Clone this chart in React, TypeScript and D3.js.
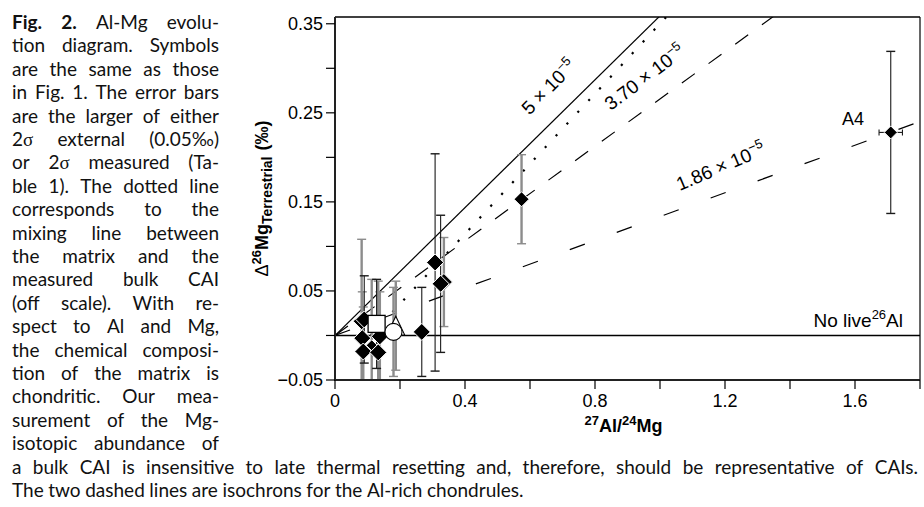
import React, { useEffect, useRef } from 'react';
import * as d3 from 'd3';

const W = 924;
const H = 507;

// Axis ticks
const xTickValues = [0, 0.2, 0.4, 0.6, 0.8, 1.0, 1.2, 1.4, 1.6, 1.8];
const xTickLabels = ['0', '', '0.4', '', '0.8', '', '1.2', '', '1.6', ''];
const yTickValues = [-0.05, 0, 0.05, 0.1, 0.15, 0.2, 0.25, 0.3, 0.35];
const yTickLabels = ['\u22120.05', '', '0.05', '', '0.15', '', '0.25', '', '0.35'];

// Isochrons (26Al/27Al initial ratios)
const isoRatios = [5e-5, 3.7e-5, 1.86e-5];
const isoLabels = ['5 \u00d7 10', '3.70 \u00d7 10', '1.86 \u00d7 10'];
const isoLabelX = [0.672, 0.965, 1.195];
const isoLabelY = [0.274, 0.284, 0.183];
const MG_STD = 0.13932;

// Mixing line matrix -> bulk CAI
const mixX = [0.11, 1.02];
const mixY = [0.0, 0.358];

// Data points (draw order)
const ptShape = ['diamond', 'diamond', 'diamond', 'diamond', 'diamond', 'diamond', 'diamond', 'diamond', 'diamond', 'diamond', 'diamond', 'diamond', 'square', 'triangle', 'circle', 'diamond'];
const ptX = [0.574, 0.335, 0.325, 0.308, 0.267, 0.082, 0.09, 0.084, 0.087, 0.113, 0.138, 0.133, 0.128, 0.187, 0.18, 1.71];
const ptY = [0.153, 0.06, 0.058, 0.082, 0.004, 0.016, 0.018, -0.003, -0.018, -0.011, -0.001, -0.019, 0.013, 0.011, 0.004, 0.228];
const ptErr = [0.05, 0.05, 0.077, 0.122, 0.05, 0.092, 0.049, 0.052, 0.05, 0.074, 0.05, 0.08, 0.05, 0.05, 0.05, 0.091];
const ptXErr = [0, 0, 0, 0, 0, 0, 0, 0, 0, 0, 0, 0, 0, 0, 0, 0.036];
const ptBar = ['g', 'g', 'k', 'k', 'k', 'g', 'k', 'g', 'g', 'g', 'g', 'g', 'k', 'g', 'g', 'k'];
const ptSize = [7.5, 8.5, 8.5, 8.5, 8.5, 8.5, 8.5, 8.5, 8.5, 5.5, 8.5, 8.5, 8.5, 9, 8.5, 6.5];

const captionLines = [
  'Fig. 2. Al-Mg evolu-',
  'tion diagram. Symbols',
  'are the same as those',
  'in Fig. 1. The error bars',
  'are the larger of either',
  '2\u03c3 external (0.05\u2030)',
  'or 2\u03c3 measured (Ta-',
  'ble 1). The dotted line',
  'corresponds to the',
  'mixing line between',
  'the matrix and the',
  'measured bulk CAI',
  '(off scale). With re-',
  'spect to Al and Mg,',
  'the chemical composi-',
  'tion of the matrix is',
  'chondritic. Our mea-',
  'surement of the Mg-',
  'isotopic abundance of',
  'a bulk CAI is insensitive to late thermal resetting and, therefore, should be representative of CAIs.',
  'The two dashed lines are isochrons for the Al-rich chondrules.',
];

const CAP_FONT = 'Lato, "Open Sans", sans-serif';
const CH_FONT = '"Liberation Sans", Arial, sans-serif';

export default function App() {
  const ref = useRef<SVGSVGElement>(null);

  useEffect(() => {
    document.body.style.margin = '0';
    const svg = d3.select(ref.current as SVGSVGElement);
    svg.selectAll('*').remove();

    const x = d3.scaleLinear().domain([0, 1.8]).range([335, 920]);
    const y = d3.scaleLinear().domain([-0.05, 0.3576]).range([380, 17]);
    const x0 = x(0), x1 = x(1.8), yb = y(-0.05), yt = y(0.3576);

    svg.append('defs').append('clipPath').attr('id', 'plotclip')
      .append('rect').attr('x', x0).attr('y', yt).attr('width', x1 - x0).attr('height', yb - yt);

    const g = svg.append('g');
    const clip = g.append('g').attr('clip-path', 'url(#plotclip)');

    // zero line
    clip.append('line').attr('x1', x0).attr('x2', x1).attr('y1', y(0)).attr('y2', y(0))
      .attr('stroke', '#000').attr('stroke-width', 1.5);

    // isochrons
    const dashes = [null, '16 17', '16 34'];
    isoRatios.forEach((r, i) => {
      const slope = (r / MG_STD) * 1000;
      clip.append('line')
        .attr('x1', x(0)).attr('y1', y(0))
        .attr('x2', x(1.8)).attr('y2', y(slope * 1.8))
        .attr('stroke', '#000').attr('stroke-width', 1.2)
        .attr('stroke-dasharray', dashes[i] as any);
    });

    // mixing line (dotted)
    clip.append('line')
      .attr('x1', x(mixX[0])).attr('y1', y(mixY[0]))
      .attr('x2', x(mixX[1])).attr('y2', y(mixY[1]))
      .attr('stroke', '#000').attr('stroke-width', 2.2)
      .attr('stroke-dasharray', '2.2 13.8');

    // error bars: grey first, then black
    ['g', 'k'].forEach((kind) => {
      ptX.forEach((px, i) => {
        if (ptBar[i] !== kind || ptErr[i] <= 0) return;
        const cx = x(px);
        const col = kind === 'g' ? '#8c8c8c' : '#1a1a1a';
        const sw = kind === 'g' ? 2.4 : 1.1;
        const ya = y(ptY[i] + ptErr[i]);
        const yb2 = y(ptY[i] - ptErr[i]);
        clip.append('line').attr('x1', cx).attr('x2', cx).attr('y1', ya).attr('y2', yb2)
          .attr('stroke', col).attr('stroke-width', sw);
        [ya, yb2].forEach((yy) => {
          clip.append('line').attr('x1', cx - 4.5).attr('x2', cx + 4.5).attr('y1', yy).attr('y2', yy)
            .attr('stroke', col).attr('stroke-width', 1.4);
        });
        if (ptXErr[i] > 0) {
          const xa = x(px - ptXErr[i]), xb = x(px + ptXErr[i]);
          const cy = y(ptY[i]);
          clip.append('line').attr('x1', xa).attr('x2', xb).attr('y1', cy).attr('y2', cy)
            .attr('stroke', col).attr('stroke-width', 1.1);
          [xa, xb].forEach((xx) => {
            clip.append('line').attr('x1', xx).attr('x2', xx).attr('y1', cy - 3).attr('y2', cy + 3)
              .attr('stroke', col).attr('stroke-width', 1.1);
          });
        }
      });
    });

    // markers
    ptX.forEach((px, i) => {
      const cx = x(px), cy = y(ptY[i]), s = ptSize[i];
      const shape = ptShape[i];
      if (shape === 'diamond') {
        clip.append('path')
          .attr('d', `M${cx},${cy - s}L${cx + s},${cy}L${cx},${cy + s}L${cx - s},${cy}Z`)
          .attr('fill', '#000').attr('stroke', '#fff').attr('stroke-width', 1);
      } else if (shape === 'square') {
        clip.append('rect').attr('x', cx - s).attr('y', cy - s).attr('width', 2 * s).attr('height', 2 * s)
          .attr('fill', '#fff').attr('stroke', '#000').attr('stroke-width', 1.3);
      } else if (shape === 'triangle') {
        const h = s * 2.1;
        clip.append('path')
          .attr('d', `M${cx},${cy - h / 2}L${cx + s},${cy + h / 2}L${cx - s},${cy + h / 2}Z`)
          .attr('fill', '#fff').attr('stroke', '#000').attr('stroke-width', 1.1);
      } else if (shape === 'circle') {
        clip.append('circle').attr('cx', cx).attr('cy', cy).attr('r', s)
          .attr('fill', '#fff').attr('stroke', '#000').attr('stroke-width', 1.1);
      }
    });

    // frame
    g.append('line').attr('x1', x0).attr('x2', x1).attr('y1', yt).attr('y2', yt).attr('stroke', '#000').attr('stroke-width', 1.3);
    g.append('line').attr('x1', x1).attr('x2', x1).attr('y1', yt).attr('y2', yb).attr('stroke', '#000').attr('stroke-width', 1.2);
    g.append('line').attr('x1', x0).attr('x2', x0).attr('y1', yt).attr('y2', yb + 1).attr('stroke', '#222').attr('stroke-width', 2);
    g.append('line').attr('x1', x0 - 1).attr('x2', x1).attr('y1', yb).attr('y2', yb).attr('stroke', '#222').attr('stroke-width', 2);

    const TF = 18;
    // y ticks
    yTickValues.forEach((v, i) => {
      g.append('line').attr('x1', x0 - 9).attr('x2', x0).attr('y1', y(v)).attr('y2', y(v))
        .attr('stroke', '#000').attr('stroke-width', 1.2);
      if (yTickLabels[i]) {
        g.append('text').attr('x', x0 - 12).attr('y', y(v) + 6).attr('text-anchor', 'end')
          .attr('font-family', CH_FONT).attr('font-size', TF).text(yTickLabels[i]);
      }
    });
    // x ticks
    xTickValues.forEach((v, i) => {
      g.append('line').attr('x1', x(v)).attr('x2', x(v)).attr('y1', yb).attr('y2', yb + 9)
        .attr('stroke', '#000').attr('stroke-width', 1.2);
      if (xTickLabels[i]) {
        g.append('text').attr('x', x(v)).attr('y', 407).attr('text-anchor', 'middle')
          .attr('font-family', CH_FONT).attr('font-size', TF).text(xTickLabels[i]);
      }
    });

    // x axis title
    const xt = g.append('text').attr('x', (x0 + x1) / 2 - 4).attr('y', 432).attr('text-anchor', 'middle')
      .attr('font-family', CH_FONT).attr('font-size', 18).attr('font-weight', 'bold');
    xt.append('tspan').attr('font-size', 13).attr('dy', -7).text('27');
    xt.append('tspan').attr('dy', 7).text('Al/');
    xt.append('tspan').attr('font-size', 13).attr('dy', -7).text('24');
    xt.append('tspan').attr('dy', 7).text('Mg');

    // y axis title
    const ytl = g.append('text').attr('transform', `translate(268,${(yt + yb) / 2}) rotate(-90)`)
      .attr('text-anchor', 'middle').attr('font-family', CH_FONT).attr('font-size', 18).attr('font-weight', 'bold');
    ytl.append('tspan').attr('font-weight', 'normal').text('\u0394');
    ytl.append('tspan').attr('font-size', 13).attr('dy', -7).text('26');
    ytl.append('tspan').attr('dy', 7).text('Mg');
    ytl.append('tspan').attr('font-size', 14).attr('dy', 4).text('Terrestrial');
    ytl.append('tspan').attr('dy', -4).attr('dx', 6).text('(\u2030)');

    // isochron labels
    isoRatios.forEach((r, i) => {
      const slope = (r / MG_STD) * 1000;
      const pxSlope = (y(0) - y(slope)) / (x(1) - x(0));
      const ang = -Math.atan(pxSlope) * 180 / Math.PI - (i === 2 ? 3 : 1);
      const t = g.append('text')
        .attr('transform', `translate(${x(isoLabelX[i])},${y(isoLabelY[i])}) rotate(${ang})`)
        .attr('text-anchor', 'middle').attr('font-family', CH_FONT).attr('font-size', 19);
      t.append('tspan').text(isoLabels[i]);
      t.append('tspan').attr('font-size', 13).attr('dy', -8).text('\u22125');
    });

    // A4 label
    g.append('text').attr('x', x(1.56)).attr('y', y(0.236)).attr('font-family', CH_FONT).attr('font-size', 18).text('A4');

    // No live 26Al
    const nl = g.append('text').attr('x', 903).attr('y', y(0.009)).attr('text-anchor', 'end')
      .attr('font-family', CH_FONT).attr('font-size', 19);
    nl.append('tspan').text('No live');
    nl.append('tspan').attr('font-size', 13).attr('dy', -8).text('26');
    nl.append('tspan').attr('dy', 8).text('Al');

    // Caption (justified)
    const cap = svg.append('g');
    const fs = 19;
    const colL = 12, colR = 219, fullR = 918;
    const lineTarget = (i: number) => (i < 19 ? colR : fullR) - colL;
    const justify = (i: number) => i < 20;

    const makeWord = (parent: any, word: string, bold: boolean) => {
      const t = parent.append('text').attr('font-family', CAP_FONT).attr('font-size', fs).attr('fill', '#111');
      if (bold) t.attr('font-weight', 'bold');
      const parts = word.split(/(\u03c3)/);
      parts.forEach((p: string) => {
        if (!p) return;
        const sp = t.append('tspan').text(p);
        if (p === '\u03c3') sp.attr('font-family', '"Liberation Serif", serif');
      });
      return t;
    };

    captionLines.forEach((ln, i) => {
      const by = 29 + i * 23.4;
      const lg = cap.append('g');
      const words = ln.split(' ');
      const nodes = words.map((w, j) => makeWord(lg, w, i === 0 && j < 2));
      const widths = nodes.map((n: any) => (n.node() as SVGTextElement).getComputedTextLength());
      const total = widths.reduce((a: number, b: number) => a + b, 0);
      const minGap = fs * 0.24;
      const target = lineTarget(i);
      const natural = total + minGap * (words.length - 1);
      let k = 1;
      if (natural > target) k = target / natural;
      let gap = minGap;
      if (justify(i) && words.length > 1) gap = (target / k - total) / (words.length - 1);
      let cx = 0;
      nodes.forEach((n: any, j: number) => {
        n.attr('x', cx).attr('y', 0);
        cx += widths[j] + gap;
      });
      lg.attr('transform', `translate(${colL},${by}) scale(${k},1)`);
    });
  }, []);

  return (
    <svg
      ref={ref}
      width={W}
      height={H}
      style={{ position: 'absolute', left: 0, top: 0, background: '#fff', display: 'block' }}
    />
  );
}
